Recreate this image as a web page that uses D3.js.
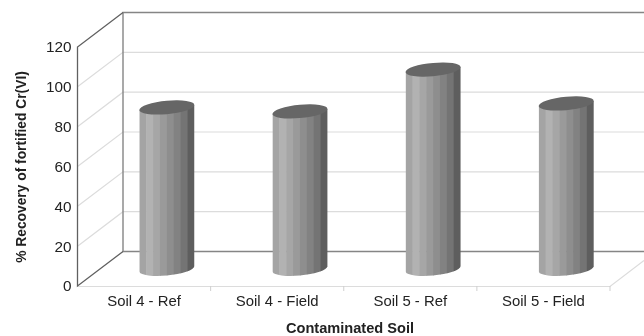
<!DOCTYPE html>
<html>
<head>
<meta charset="utf-8">
<script src="https://cdn.jsdelivr.net/npm/d3@7/dist/d3.min.js"></script>
<style>
  html, body { margin: 0; background: #fff; }
  svg { display: block; font-family: "Liberation Sans", Arial, sans-serif; filter: blur(0.35px); }
</style>
</head>
<body>
<svg class="vis" width="644" height="336"></svg>
<script>
const categories = ["Soil 4 - Ref", "Soil 4 - Field", "Soil 5 - Ref", "Soil 5 - Field"];
const recovery = [81, 79, 100, 83];
const yTicks = [0, 20, 40, 60, 80, 100, 120];
const shades = ["#a4a4a4", "#b2b2b2", "#a6a6a6", "#9a9a9a", "#8e8e8e", "#828282", "#747474", "#5e5e5e"];

const svg = d3.select("svg.vis");

// depth of the fake 3d box
const depth = { x: 45.5, y: -34.5 };

const x = d3.scaleBand().domain(categories).range([77.5, 610]);
const y = d3.scaleLinear().domain([0, 120]).range([286, 47]);

const wall = svg.append("g").attr("fill", "none");

// left wall grid + back wall grid
wall.selectAll("path.grid")
  .data(yTicks.slice(1, -1))
  .join("path")
  .attr("class", "grid")
  .attr("stroke", "#dcdcdc")
  .attr("stroke-width", 1.2)
  .attr("d", d => `M77.5,${y(d)}L${77.5 + depth.x},${y(d) + depth.y}H644`);

// floor front edge, ticks and the right floor edge
wall.append("path")
  .attr("stroke", "#dcdcdc")
  .attr("stroke-width", 1.2)
  .attr("d", `M77.5,${y(0) + 0.5}H610L644,${y(0) + 0.5 - 26}`);

wall.selectAll("path.tick")
  .data(categories)
  .join("path")
  .attr("class", "tick")
  .attr("stroke", "#cfcfcf")
  .attr("d", d => `M${x(d) + x.bandwidth()},${y(0)}v5`);

// back wall frame
wall.append("path")
  .attr("stroke", "#858585")
  .attr("stroke-width", 1.4)
  .attr("d", `M644,${y(120) + depth.y}H${77.5 + depth.x}V${y(0) + depth.y}H644`);

// front frame
wall.append("path")
  .attr("stroke", "#606060")
  .attr("stroke-width", 1.3)
  .attr("d", `M${77.5 + depth.x},${y(120) + depth.y}L77.5,${y(120)}V${y(0)}L${77.5 + depth.x},${y(0) + depth.y}`);

// cylinders
const barW = 55;
const ry = 6.7;
const shear = -0.09;
const defs = svg.append("defs");

const bars = svg.selectAll("g.bar")
  .data(categories.map((c, i) => ({ cat: c, val: recovery[i], i })))
  .join("g")
  .attr("class", "bar");

bars.each(function (d) {
  const g = d3.select(this);
  const cx = x(d.cat) + x.bandwidth() / 2 + depth.x / 2;
  const base = y(0) + depth.y / 2;
  const top = y(d.val) + depth.y / 2;
  const id = "body" + d.i;

  // body = sheared box + sheared bottom ellipse
  const clip = defs.append("clipPath").attr("id", id);
  clip.append("rect")
    .attr("x", -barW / 2).attr("y", top - base)
    .attr("width", barW).attr("height", base - top)
    .attr("transform", `matrix(1,${shear},0,1,${cx},${base})`);
  clip.append("ellipse")
    .attr("rx", barW / 2).attr("ry", ry)
    .attr("transform", `matrix(1,${shear},0,1,${cx},${base})`);

  const stripW = barW / shades.length;
  g.append("g").attr("clip-path", `url(#${id})`)
    .selectAll("rect")
    .data(shades)
    .join("rect")
    .attr("x", (s, i) => cx - barW / 2 + i * stripW)
    .attr("y", top - 10)
    .attr("width", stripW + 0.5)
    .attr("height", base - top + 25)
    .attr("fill", s => s);

  g.append("ellipse")
    .attr("rx", barW / 2).attr("ry", ry)
    .attr("transform", `matrix(1,${shear},0,1,${cx},${top})`)
    .attr("fill", "#666");
});

// y labels
const yAxis = svg.append("g")
  .attr("transform", "translate(77.5,0)")
  .call(d3.axisLeft(y).tickValues(yTicks).tickSize(0).tickPadding(6));
yAxis.select(".domain").remove();
yAxis.selectAll("text")
  .attr("font-size", 15.3)
  .attr("font-family", "Liberation Sans")
  .attr("fill", "#222");

// x labels
const xAxis = svg.append("g")
  .attr("transform", `translate(0,${y(0)})`)
  .call(d3.axisBottom(x).tickSize(0).tickPadding(9));
xAxis.select(".domain").remove();
xAxis.selectAll("text")
  .attr("font-size", 14.9)
  .attr("font-family", "Liberation Sans")
  .attr("fill", "#222");

svg.append("text")
  .attr("x", 350).attr("y", 333)
  .attr("text-anchor", "middle")
  .attr("font-size", 14.6)
  .attr("font-weight", "bold")
  .attr("fill", "#222")
  .text("Contaminated Soil");

svg.append("text")
  .attr("transform", "translate(26,167) rotate(-90)")
  .attr("text-anchor", "middle")
  .attr("font-size", 13.8)
  .attr("font-weight", "bold")
  .attr("fill", "#222")
  .text("% Recovery of fortified Cr(VI)");
</script>
</body>
</html>
